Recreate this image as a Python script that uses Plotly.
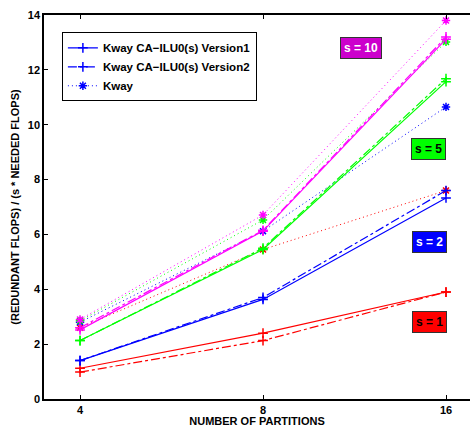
import plotly.graph_objects as go

partitions = [4, 8, 16]
tick_labels = ["4", "8", "16"]

s1_v1 = [1.12, 2.40, 3.90]
s1_v2 = [0.98, 2.13, 3.90]
s1_kway = [2.60, 5.45, 7.60]
s2_v1 = [1.40, 3.63, 7.33]
s2_v2 = [1.40, 3.70, 7.60]
s2_kway = [2.80, 6.12, 10.65]
s5_v1 = [2.13, 5.45, 11.57]
s5_v2 = [2.13, 5.50, 11.68]
s5_kway = [2.85, 6.53, 13.02]
s10_v1 = [2.52, 6.12, 13.12]
s10_v2 = [2.60, 6.15, 13.20]
s10_kway = [2.90, 6.71, 13.80]

series = [
    ("s = 1", "#ff0000", s1_v1, s1_v2, s1_kway),
    ("s = 2", "#0000ff", s2_v1, s2_v2, s2_kway),
    ("s = 5", "#00ff00", s5_v1, s5_v2, s5_kway),
    ("s = 10", "#ff00ff", s10_v1, s10_v2, s10_kway),
]
names = ["Kway CA\u2212ILU0(s) Version1", "Kway CA\u2212ILU0(s) Version2", "Kway"]

fig = go.Figure()
for label, color, v1, v2, kw in series:
    show = label == "s = 2"
    fig.add_trace(go.Scatter(x=partitions, y=v1, mode="lines+markers", name=names[0],
                   line=dict(color=color, width=1.2, dash="solid"),
                   marker=dict(symbol="cross-thin", size=7, line=dict(color=color, width=1.5)),
                   showlegend=show, legendrank=1))
    fig.add_trace(go.Scatter(x=partitions, y=v2, mode="lines+markers", name=names[1],
                   line=dict(color=color, width=1.2, dash="dashdot"),
                   marker=dict(symbol="cross-thin", size=7, line=dict(color=color, width=1.5)),
                   showlegend=show, legendrank=2))
    fig.add_trace(go.Scatter(x=partitions, y=kw, mode="lines+markers", name=names[2],
                   line=dict(color=color, width=1, dash="1px,3px"),
                   marker=dict(symbol="asterisk-open", size=7, line=dict(color=color, width=1.5)),
                   showlegend=show, legendrank=3))

boxes = [
    ("s = 10", "#cc00cc", "white", 0.793, 0.943),
    ("s = 5", "#00ff00", "black", 0.944, 0.650),
    ("s = 2", "#0000ff", "white", 0.945, 0.408),
    ("s = 1", "#ff0000", "black", 0.945, 0.173),
]
for txt, bg, fc, px, py in boxes:
    fig.add_annotation(x=px, y=py, xref="paper", yref="paper", text=txt, showarrow=False,
                       bgcolor=bg, bordercolor="#333333", borderwidth=1, borderpad=3,
                       font=dict(family="Liberation Sans, Arial", size=12, color=fc, weight="bold"))

fig.update_layout(
    width=470, height=427,
    margin=dict(l=44, r=0, t=15, b=28),
    plot_bgcolor="white", paper_bgcolor="white",
    font=dict(family="Liberation Sans, Arial", size=11, color="black", weight="bold"),
    legend=dict(x=0.042, y=0.955, xanchor="left", yanchor="top",
                bgcolor="white", bordercolor="black", borderwidth=1,
                font=dict(size=11.5, weight="bold"), tracegroupgap=0, itemwidth=30),
    showlegend=True,
)
fig.update_xaxes(type="log", range=[0.5428, 1.2436], tickvals=partitions, ticktext=tick_labels,
                 showline=True, linecolor="black", linewidth=1.5, mirror="ticks",
                 ticks="inside", ticklen=4, tickcolor="black", showgrid=False, zeroline=False,
                 automargin=False,
                 title=dict(text="NUMBER OF PARTITIONS", standoff=0,
                            font=dict(size=11, weight="bold")))
fig.update_yaxes(range=[0, 14], tickvals=[0, 2, 4, 6, 8, 10, 12, 14],
                 showline=True, linecolor="black", linewidth=1.5,
                 ticks="inside", ticklen=4, tickcolor="black", showgrid=False, zeroline=False,
                 automargin=False,
                 title=dict(text="(REDUNDANT FLOPS) / (s * NEEDED FLOPS)", standoff=6,
                            font=dict(size=11, weight="bold")))

fig.write_html("out.html", config={"displayModeBar": False},
               post_script="document.body.style.margin='0px';")
